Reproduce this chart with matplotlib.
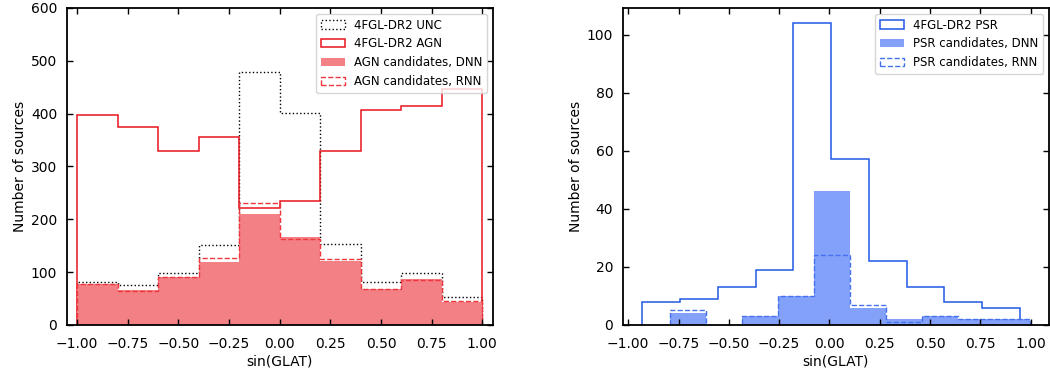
import matplotlib
matplotlib.use('Agg')
import matplotlib.pyplot as plt
from matplotlib.patches import Patch

# bin edges
agn_edges = [-1.0, -0.8, -0.6, -0.4, -0.2, 0.0, 0.2, 0.4, 0.6, 0.8, 1.0]
psr_edges = [-0.930, -0.742, -0.555, -0.367, -0.179, 0.008, 0.196, 0.384, 0.571, 0.759, 0.947]
cand_edges = [-0.793, -0.614, -0.436, -0.257, -0.078, 0.101, 0.279, 0.458, 0.637, 0.816, 0.999]

# left panel counts
unc_counts = [82, 76, 98, 152, 478, 402, 153, 82, 99, 52]
agn_counts = [397, 375, 329, 356, 221, 235, 329, 406, 415, 447]
agn_dnn = [78, 66, 90, 120, 210, 166, 121, 69, 87, 44]
agn_rnn = [78, 65, 90, 126, 230, 162, 125, 69, 85, 45]

# right panel counts
psr_counts = [8, 9, 13, 19, 104, 57, 22, 13, 8, 6]
psr_dnn = [4, 0, 3, 10, 46, 6, 2, 3, 2, 2]
psr_rnn = [5, 0, 3, 10, 24, 7, 1, 3, 2, 2]

plt.rcParams['font.size'] = 10

fig = plt.figure(figsize=(10.5, 3.77), dpi=100)
ax1 = fig.add_axes([0.0638, 0.138, 0.4057, 0.841])
ax2 = fig.add_axes([0.5933, 0.138, 0.4057, 0.841])

red, red_fill, red_dash = '#e8141c', '#f28085', '#f0353d'
blue, blue_fill, blue_dash = '#2158e6', '#84a1fa', '#4472ee'

# AGN panel
ax1.stairs(unc_counts, agn_edges, color='black', ls=':', lw=1.0)
ax1.stairs(agn_counts, agn_edges, color=red, lw=1.1)
ax1.stairs(agn_dnn, agn_edges, fill=True, color=red_fill, lw=0)
ax1.stairs(agn_rnn, agn_edges, color=red_dash, ls='--', lw=1.0)
ax1.set_xlim(-1.05, 1.053)
ax1.set_ylim(0, 600)

h1 = [Patch(facecolor='none', edgecolor='black', ls=':', lw=1.0, label='4FGL-DR2 UNC'),
      Patch(facecolor='none', edgecolor=red, lw=1.1, label='4FGL-DR2 AGN'),
      Patch(facecolor=red_fill, edgecolor='none', label='AGN candidates, DNN'),
      Patch(facecolor='none', edgecolor=red_dash, ls='--', lw=1.0, label='AGN candidates, RNN')]

# PSR panel
ax2.stairs(psr_counts, psr_edges, color=blue, lw=1.1)
ax2.stairs(psr_dnn, cand_edges, fill=True, color=blue_fill, lw=0)
ax2.stairs(psr_rnn, cand_edges, color=blue_dash, ls='--', lw=1.0)
ax2.set_xlim(-1.026, 1.091)
ax2.set_ylim(0, 109.2)

h2 = [Patch(facecolor='none', edgecolor=blue, lw=1.1, label='4FGL-DR2 PSR'),
      Patch(facecolor=blue_fill, edgecolor='none', label='PSR candidates, DNN'),
      Patch(facecolor='none', edgecolor=blue_dash, ls='--', lw=1.0, label='PSR candidates, RNN')]

for ax, handles in ((ax1, h1), (ax2, h2)):
    ax.set_xticks([-1.0, -0.75, -0.5, -0.25, 0.0, 0.25, 0.5, 0.75, 1.0])
    ax.tick_params(direction='in', top=True, right=True, length=4, width=1, labelsize=10)
    ax.tick_params(axis='x', pad=9)
    ax.tick_params(axis='y', pad=7)
    for sp in ax.spines.values():
        sp.set_linewidth(1.3)
    ax.set_xlabel('sin(GLAT)', fontsize=10, labelpad=2)
    ax.set_ylabel('Number of sources', fontsize=10, labelpad=3)
    ax.legend(handles=handles, loc='upper right', fontsize=8.5, borderaxespad=0.5)

fig.savefig('out.png', dpi=100)
